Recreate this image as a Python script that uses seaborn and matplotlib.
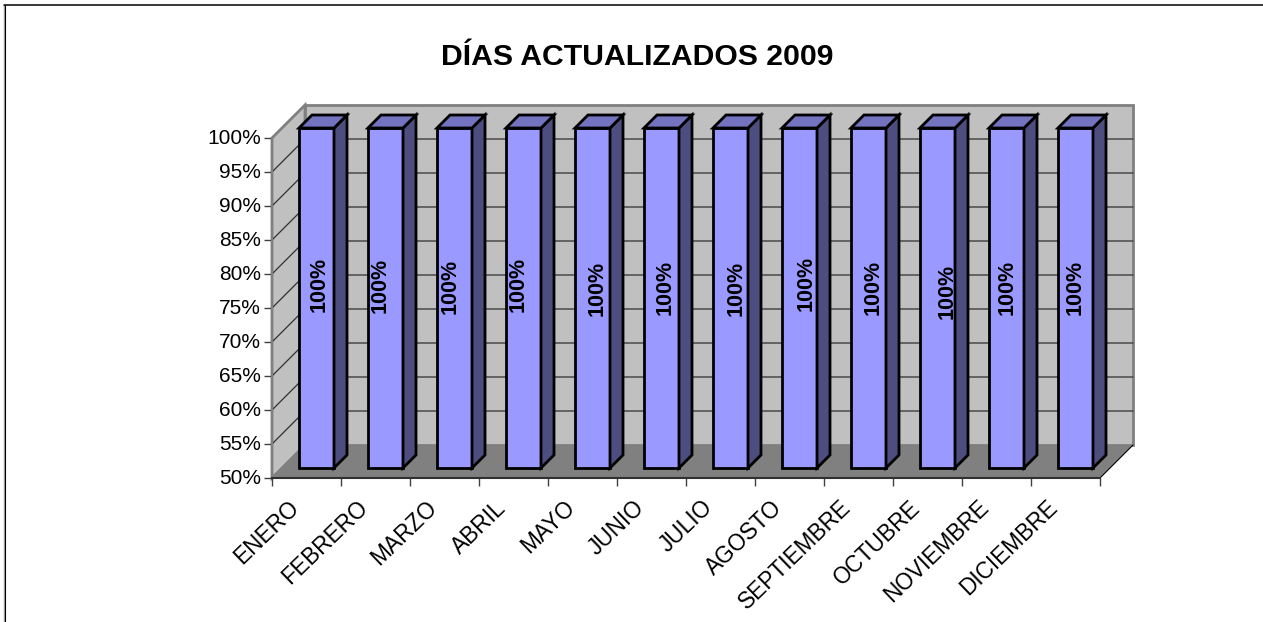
#!/usr/bin/env python3.12
# coding=utf-8

from matplotlib import pyplot as plt
from matplotlib.lines import Line2D
from matplotlib.patches import Polygon
from matplotlib.ticker import FuncFormatter
from matplotlib.transforms import Affine2D
import pandas as pd
import seaborn as sns

MONTHS = ['ENERO', 'FEBRERO', 'MARZO', 'ABRIL', 'MAYO', 'JUNIO', 'JULIO',
          'AGOSTO', 'SEPTIEMBRE', 'OCTUBRE', 'NOVIEMBRE', 'DICIEMBRE']
UPDATED = [100, 100, 100, 100, 100, 100, 100, 100, 100, 100, 100, 100]
Y_TICKS = [50, 55, 60, 65, 70, 75, 80, 85, 90, 95, 100]
TITLE = 'DÍAS ACTUALIZADOS 2009'

WIDTH, HEIGHT = 1263, 622

sns.set_theme(style='white')
plt.rcParams['font.family'] = ['Liberation Sans', 'DejaVu Sans']

fig = plt.figure(figsize=(WIDTH / 100, HEIGHT / 100), dpi=100, facecolor='white')
ax = fig.add_axes([272 / WIDTH, (HEIGHT - 478) / HEIGHT, 828 / WIDTH, 340 / HEIGHT])
ax.patch.set_visible(False)

df = pd.DataFrame({'month': MONTHS, 'updated': UPDATED})
base = Y_TICKS[0]
df['height'] = df['updated'] - base

sns.barplot(data=df, x='month', y='height', bottom=base, ax=ax, width=35 / 69,
            color='#9999FF', saturation=1, errorbar=None, edgecolor='black',
            linewidth=2.0, zorder=3, clip_on=False)
ax.set_xlim(-0.5, len(MONTHS) - 0.5)
ax.set_ylim(base, Y_TICKS[-1])

# one pixel in data units, the fake 3D depth is done by shifting in pixels
px_x = 1 / 69
px_y = 50 / 340
wall_depth = 33
bar_shift = 10
bar_depth = 13


def shifted(x, y, d):
    return (x + d * px_x, y + d * px_y)


x0, x1 = ax.get_xlim()
y0, y1 = ax.get_ylim()

# Walls and floor
ax.add_patch(Polygon([shifted(x0, y0, wall_depth), shifted(x1, y0, wall_depth),
                      shifted(x1, y1, wall_depth), shifted(x0, y1, wall_depth)],
                     facecolor='#C0C0C0', edgecolor='#808080', linewidth=2,
                     clip_on=False, zorder=0))
ax.add_patch(Polygon([(x0, y0), shifted(x0, y0, wall_depth),
                      shifted(x0, y1, wall_depth), (x0, y1)],
                     facecolor='#C0C0C0', edgecolor='#808080', linewidth=2,
                     clip_on=False, zorder=0))

# Grid lines go along the side wall and then along the back wall
for t in Y_TICKS[1:-1]:
    bx, by = shifted(x0, t, wall_depth)
    ex, ey = shifted(x1, t, wall_depth)
    ax.plot([x0, bx, ex], [t, by, ey], color='#303030', linewidth=0.9,
            clip_on=False, zorder=1)

ax.add_patch(Polygon([(x0, y0), (x1, y0), shifted(x1, y0, wall_depth),
                      shifted(x0, y0, wall_depth)],
                     facecolor='#808080', edgecolor='none',
                     clip_on=False, zorder=2))
ax.plot([x1, shifted(x1, y0, wall_depth)[0]], [y0, shifted(x1, y0, wall_depth)[1]],
        color='black', linewidth=0.8, clip_on=False, zorder=2)

# Move the bars into the room and add top and side faces
for patch in ax.containers[0]:
    patch.set_x(patch.get_x() + bar_shift * px_x)
    patch.set_y(patch.get_y() + bar_shift * px_y)
    left = patch.get_x()
    right = left + patch.get_width()
    bottom = patch.get_y()
    top = bottom + patch.get_height()
    ax.add_patch(Polygon([(right, bottom), shifted(right, bottom, bar_depth),
                          shifted(right, top, bar_depth), (right, top)],
                         facecolor='#4D4D80', edgecolor='black', linewidth=2,
                         joinstyle='miter', clip_on=False, zorder=3))
    ax.add_patch(Polygon([(left, top), (right, top), shifted(right, top, bar_depth),
                          shifted(left, top, bar_depth)],
                         facecolor='#7373BF', edgecolor='black', linewidth=2,
                         joinstyle='miter', clip_on=False, zorder=3))

# Value labels, they are not quite centred in the original
nudge_x = [2.5, -5.5, -4.5, -5.5, 4.5, 3.5, 5.5, 6.5, 4.5, 9.5, 0.5, -0.5]
nudge_y = [14, 13, 12, 14, 10, 11, 10, 15, 11, 7, 11, 11]
for i, value in enumerate(UPDATED):
    xc, yc = shifted(i, (base + value) / 2, bar_shift)
    ax.text(xc + nudge_x[i] * px_x, yc + nudge_y[i] * px_y, f'{value}%', rotation=90,
            ha='center', va='center', fontsize=15.5, fontweight='bold',
            color='black', zorder=5)

# Axes
for side in ['top', 'right']:
    ax.spines[side].set_visible(False)
ax.spines['left'].set_color('#808080')
ax.spines['left'].set_linewidth(1.5)
ax.spines['bottom'].set_color('#303030')
ax.spines['bottom'].set_linewidth(1.5)
for spine in ax.spines.values():
    spine.set_zorder(2.5)

ax.set_xlabel('')
ax.set_ylabel('')
ax.set_yticks(Y_TICKS)
ax.yaxis.set_major_formatter(FuncFormatter(lambda v, pos: f'{v:.0f}%'))
ax.set_xticks([i - 0.5 for i in range(len(MONTHS) + 1)], minor=True)
ax.set_xticks(range(len(MONTHS)))
ax.set_xticklabels(MONTHS, rotation=44, ha='right', rotation_mode='anchor',
                   fontsize=16.3, color='black')
ax.tick_params(axis='x', which='major', length=0, pad=13)
ax.tick_params(axis='x', which='minor', bottom=True, length=6, width=1, color='#404040')
ax.tick_params(axis='y', left=True, length=6, width=1, color='#404040', pad=2,
               labelsize=15, labelcolor='black')

# Labels sit a bit left of the category centre, and the y labels a bit high
for label in ax.get_xticklabels():
    label.set_transform(label.get_transform() + Affine2D().translate(-19, 0))
for label in ax.get_yticklabels():
    label.set_transform(label.get_transform() + Affine2D().translate(0, 1.5))

fig.text(637 / WIDTH, 1 - 57 / HEIGHT, TITLE, ha='center', va='center',
         fontsize=21.7, fontweight='bold', color='black')

# Outer frame, only left and top are visible in the picture
fig.add_artist(Line2D([3.5 / WIDTH, 3.5 / WIDTH], [0, 1 - 5 / HEIGHT], color='#A0A0A0', linewidth=1))
fig.add_artist(Line2D([4.5 / WIDTH, 4.5 / WIDTH], [0, 1 - 5 / HEIGHT], color='black', linewidth=0.8))
fig.add_artist(Line2D([4 / WIDTH, 1263 / WIDTH], [1 - 5 / HEIGHT, 1 - 5 / HEIGHT], color='black', linewidth=1.1))

fig.savefig('out.png', dpi=100)
